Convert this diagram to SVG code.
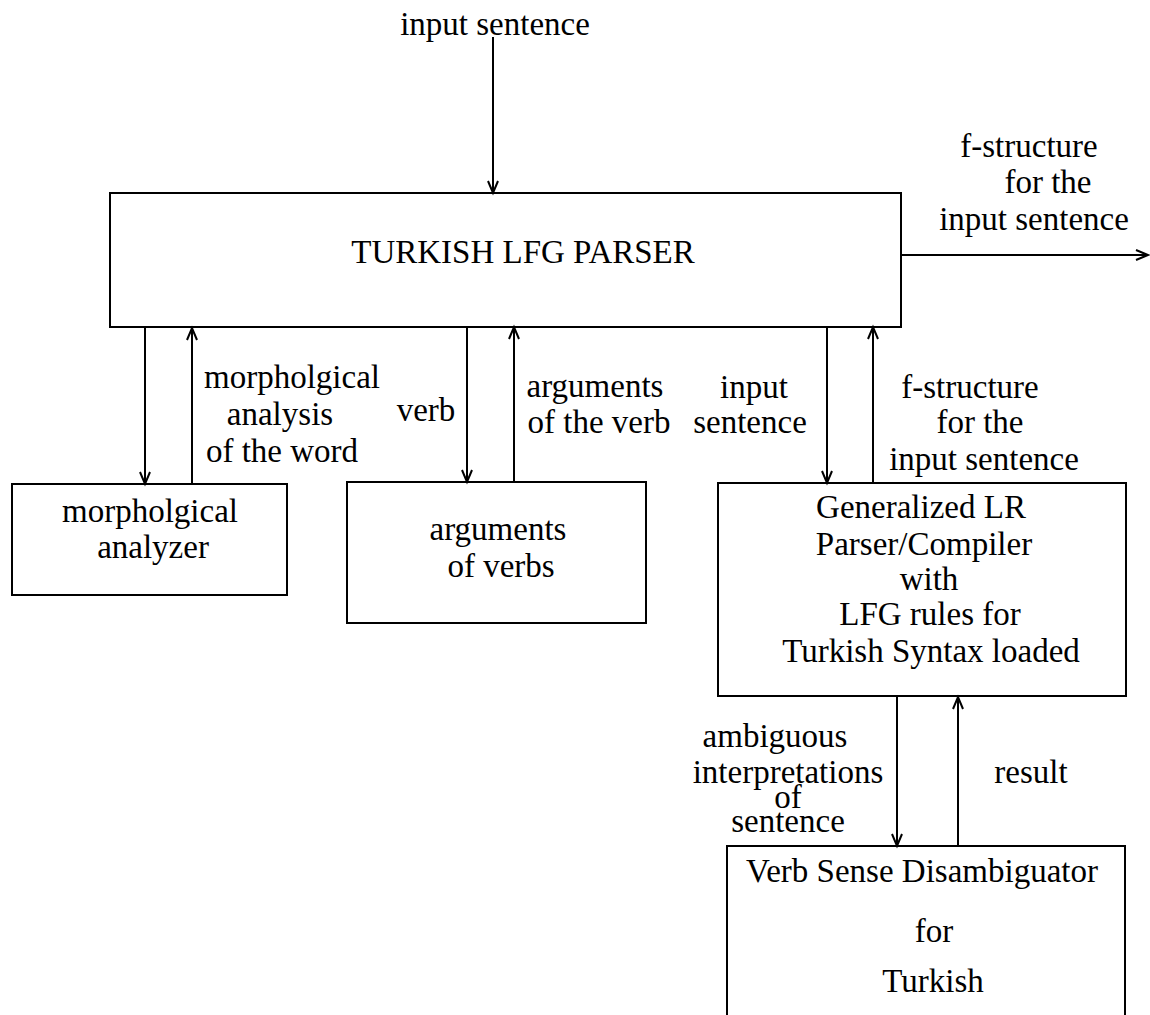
<svg xmlns="http://www.w3.org/2000/svg" width="1150" height="1015" viewBox="0 0 1150 1015">
  <defs>
    <style>
      .box { fill: none; stroke: #000; stroke-width: 2; }
      .edge { fill: none; stroke: #000; stroke-width: 2; marker-end: url(#arrow); }
      text { font-family: "Liberation Serif", "Times New Roman", serif; font-size: 33px; fill: #000; text-anchor: middle; }
    </style>
    <marker id="arrow" markerUnits="userSpaceOnUse" markerWidth="16" markerHeight="14" refX="13" refY="6" orient="auto" viewBox="0 0 16 14">
      <path d="M1,1 L13,6 L1,11" fill="none" stroke="#000" stroke-width="2"/>
    </marker>
  </defs>
  <rect width="1150" height="1015" fill="#fff"/>

  <!-- parser front end -->
  <g id="parser">
    <rect class="box" x="110" y="193" width="791" height="134"/>
    <text x="523" y="263">TURKISH LFG PARSER</text>
  </g>

  <!-- morphology -->
  <g id="morph-analyzer">
    <rect class="box" x="12" y="484" width="275" height="111"/>
    <text x="150" y="522">morpholgical</text>
    <text x="153" y="558">analyzer</text>
  </g>

  <!-- verb argument lexicon -->
  <g id="verb-arguments">
    <rect class="box" x="347" y="482" width="299" height="141"/>
    <text x="498" y="540">arguments</text>
    <text x="501" y="577">of verbs</text>
  </g>

  <!-- GLR parser with LFG grammar -->
  <g id="glr-parser">
    <rect class="box" x="718" y="483" width="408" height="213"/>
    <text x="921" y="518">Generalized LR</text>
    <text x="924" y="555">Parser/Compiler</text>
    <text x="929" y="590">with</text>
    <text x="930" y="625">LFG rules for</text>
    <text x="931" y="662">Turkish Syntax loaded</text>
  </g>

  <!-- disambiguation module -->
  <g id="disambiguator">
    <rect class="box" x="727" y="846" width="398" height="180"/>
    <text x="922" y="882">Verb Sense Disambiguator</text>
    <text x="934" y="942">for</text>
    <text x="933" y="992">Turkish</text>
  </g>

  <!-- data flow between modules -->
  <g id="connectors">
    <line class="edge" x1="493" y1="37" x2="493" y2="193"/>
    <line class="edge" x1="902" y1="255" x2="1148" y2="255"/>
    <line class="edge" x1="145" y1="328" x2="145" y2="484"/>
    <line class="edge" x1="192" y1="484" x2="192" y2="328"/>
    <line class="edge" x1="467" y1="327" x2="467" y2="482"/>
    <line class="edge" x1="514" y1="482" x2="514" y2="327"/>
    <line class="edge" x1="827" y1="327" x2="827" y2="483"/>
    <line class="edge" x1="873" y1="483" x2="873" y2="327"/>
    <line class="edge" x1="897" y1="697" x2="897" y2="846"/>
    <line class="edge" x1="958" y1="846" x2="958" y2="697"/>
  </g>

  <!-- connector labels -->
  <g id="labels">
    <text x="495" y="35">input sentence</text>
    <text x="1029" y="157">f-structure</text>
    <text x="1048" y="193">for the</text>
    <text x="1034" y="230">input sentence</text>
    <text x="292" y="388">morpholgical</text>
    <text x="280" y="425">analysis</text>
    <text x="282" y="462">of the word</text>
    <text x="426" y="421">verb</text>
    <text x="595" y="397">arguments</text>
    <text x="599" y="433">of the verb</text>
    <text x="754" y="398">input</text>
    <text x="750" y="433">sentence</text>
    <text x="970" y="398">f-structure</text>
    <text x="980" y="433">for the</text>
    <text x="984" y="470">input sentence</text>
    <text x="775" y="747">ambiguous</text>
    <text x="788" y="783">interpretations</text>
    <text x="788" y="808">of</text>
    <text x="788" y="832">sentence</text>
    <text x="1031" y="783">result</text>
  </g>
</svg>
